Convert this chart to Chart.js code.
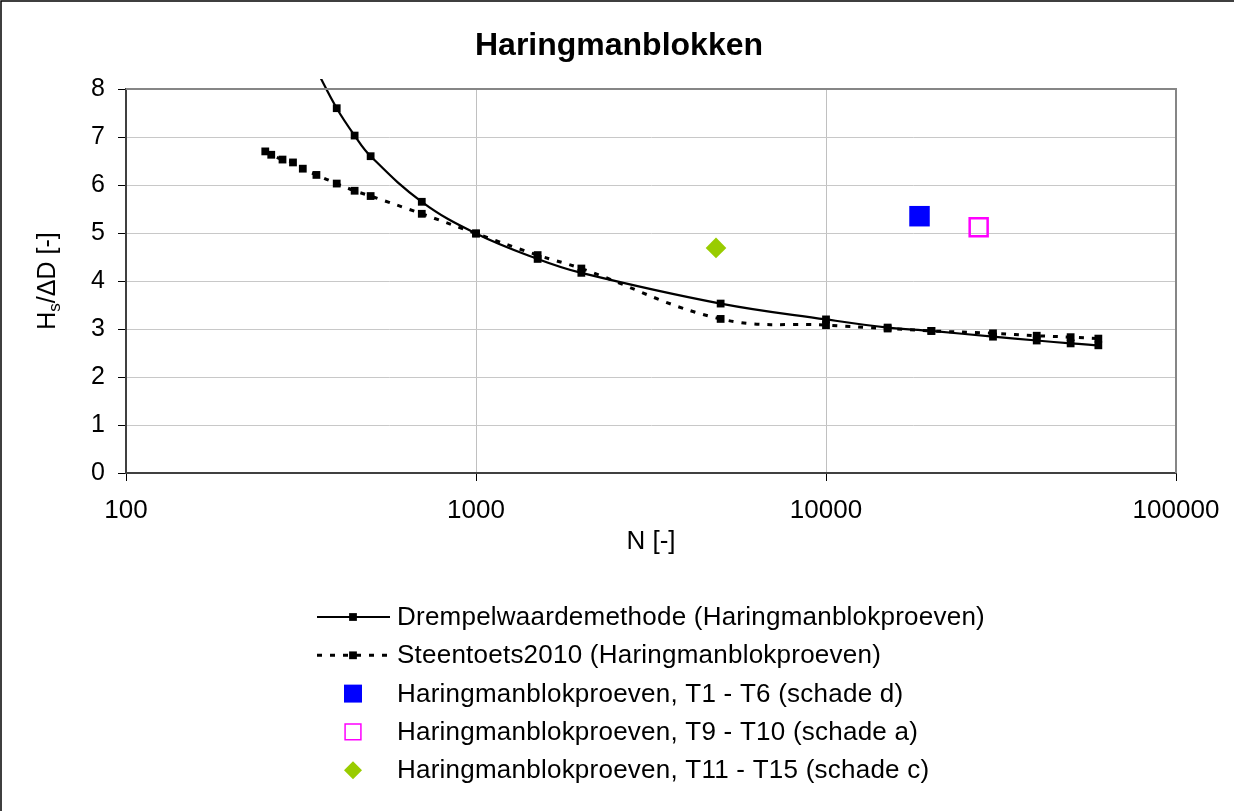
<!DOCTYPE html>
<html><head><meta charset="utf-8">
<script src="https://cdn.jsdelivr.net/npm/chart.js@4.4.0/dist/chart.umd.min.js"></script>
<style>html,body{margin:0;padding:0;background:#fff;}canvas{display:block;}</style>
</head><body>
<canvas id="c" width="1234" height="811" style="width:1234px;height:811px"></canvas>
<script>
// ---- data ----
const chartTitle = 'Haringmanblokken';
const xTitle = 'N [-]';
const yTitleMain = 'H';
const yTitleSub = 's';
const yTitleRest = '/\u0394D [-]';
const xTicks = [100, 1000, 10000, 100000];
const yTicks = [0, 1, 2, 3, 4, 5, 6, 7, 8];

const seriesLabels = [
  'Drempelwaardemethode (Haringmanblokproeven)',
  'Steentoets2010 (Haringmanblokproeven)',
  'Haringmanblokproeven, T1 - T6 (schade d)',
  'Haringmanblokproeven, T9 - T10 (schade a)',
  'Haringmanblokproeven, T11 - T15 (schade c)'
];

const nDrempel  = [350, 400, 450, 500, 700, 1000, 1500, 2000, 5000, 10000, 15000, 20000, 30000, 40000, 50000, 60000];
const hsDrempel = [8.40, 7.60, 7.03, 6.60, 5.65, 4.99, 4.46, 4.17, 3.53, 3.20, 3.03, 2.96, 2.84, 2.76, 2.70, 2.66];

const nSteen  = [250, 260, 280, 300, 320, 350, 400, 450, 500, 700, 1000, 1500, 2000, 5000, 10000, 15000, 20000, 30000, 40000, 50000, 60000];
const hsSteen = [6.70, 6.63, 6.53, 6.47, 6.34, 6.21, 6.03, 5.88, 5.77, 5.40, 4.99, 4.54, 4.26, 3.21, 3.08, 3.01, 2.96, 2.91, 2.86, 2.83, 2.80];

const nT1T6   = [18500];
const hsT1T6  = [5.35];
const nT9T10  = [27300];
const hsT9T10 = [5.12];
const nT11T15  = [4850];
const hsT11T15 = [4.69];

const FONT = '"Liberation Sans", Arial, sans-serif';

function pts(xs, ys) { return xs.map((x, i) => ({ x: x, y: ys[i] })); }

function spacingFor(ctx, text, width) {
  ctx.letterSpacing = '0px';
  const w = ctx.measureText(text).width;
  const n = Array.from(text).length;
  return Math.max(0, (width - w) / n);
}

const bgPlugin = {
  id: 'bg',
  beforeDraw(chart) {
    const ctx = chart.ctx;
    ctx.save();
    ctx.fillStyle = '#ffffff';
    ctx.fillRect(0, 0, chart.width, chart.height);
    ctx.restore();
  }
};

const framePlugin = {
  id: 'frame',
  afterDraw(chart) {
    const ctx = chart.ctx;
    const a = chart.chartArea;
    ctx.save();
    // plot top & right borders
    ctx.strokeStyle = '#868686';
    ctx.lineWidth = 2;
    ctx.beginPath();
    ctx.moveTo(a.left, a.top);
    ctx.lineTo(a.right, a.top);
    ctx.lineTo(a.right, a.bottom);
    ctx.stroke();
    // outer frame (top, left)
    ctx.strokeStyle = '#000000';
    ctx.lineWidth = 1.5;
    ctx.beginPath();
    ctx.moveTo(1, chart.height);
    ctx.lineTo(1, 1);
    ctx.lineTo(chart.width, 1);
    ctx.stroke();

    // title
    ctx.fillStyle = '#000';
    ctx.font = 'bold 32px ' + FONT;
    ctx.letterSpacing = '0px';
    ctx.textAlign = 'left';
    ctx.textBaseline = 'alphabetic';
    let tw = ctx.measureText(chartTitle).width;
    ctx.fillText(chartTitle, 619 - tw / 2, 55);

    // x axis title
    ctx.font = '26px ' + FONT;
    tw = ctx.measureText(xTitle).width;
    ctx.fillText(xTitle, (a.left + a.right) / 2 - tw / 2, 549);

    // y axis title (rotated)
    ctx.save();
    ctx.translate(55, (a.top + a.bottom) / 2);
    ctx.rotate(-Math.PI / 2);
    ctx.font = '25px ' + FONT;
    const w1 = ctx.measureText(yTitleMain).width;
    const w3 = ctx.measureText(yTitleRest).width;
    ctx.font = '17px ' + FONT;
    const w2 = ctx.measureText(yTitleSub).width;
    let x0 = -(w1 + w2 + w3) / 2;
    ctx.font = '25px ' + FONT;
    ctx.fillText(yTitleMain, x0, 0);
    ctx.font = '17px ' + FONT;
    ctx.fillText(yTitleSub, x0 + w1, 5);
    ctx.font = '25px ' + FONT;
    ctx.fillText(yTitleRest, x0 + w1 + w2, 0);
    ctx.restore();

    // legend
    ctx.font = '26px ' + FONT;
    const ls = spacingFor(ctx, chart.data.datasets[0].label, 588);
    ctx.letterSpacing = ls + 'px';
    ctx.textBaseline = 'middle';
    chart.data.datasets.forEach((ds, i) => {
      const y = 617 + i * 38.3;
      const mx = 353;
      if (ds.showLine) {
        ctx.save();
        ctx.strokeStyle = ds.borderColor;
        ctx.lineWidth = ds.borderWidth;
        ctx.setLineDash(ds.borderDash || []);
        ctx.beginPath();
        ctx.moveTo(317, y);
        ctx.lineTo(390, y);
        ctx.stroke();
        ctx.restore();
      }
      ctx.save();
      ctx.fillStyle = ds.pointBackgroundColor;
      ctx.strokeStyle = ds.pointBorderColor;
      Chart.helpers.drawPoint(ctx, {
        pointStyle: ds.pointStyle,
        radius: ds.legendRadius,
        borderWidth: ds.pointBorderWidth,
        rotation: 0
      }, mx, y);
      ctx.restore();
      ctx.fillStyle = '#000';
      ctx.fillText(ds.label, 397, y + 1);
    });
    ctx.restore();
  }
};

const commonClip = { left: 0, top: 10, right: 0, bottom: 0 };

new Chart(document.getElementById('c'), {
  type: 'scatter',
  data: {
    datasets: [
      {
        label: seriesLabels[0],
        data: pts(nDrempel, hsDrempel),
        showLine: true,
        borderColor: '#000000',
        borderWidth: 2.2,
        tension: 0.4,
        pointStyle: 'rect',
        pointRadius: 5.5,
        legendRadius: 5.5,
        pointBackgroundColor: '#000000',
        pointBorderColor: '#000000',
        pointBorderWidth: 0,
        clip: commonClip
      },
      {
        label: seriesLabels[1],
        data: pts(nSteen, hsSteen),
        showLine: true,
        borderColor: '#000000',
        borderWidth: 3,
        borderDash: [5, 8],
        tension: 0.4,
        pointStyle: 'rect',
        pointRadius: 5.5,
        legendRadius: 5.5,
        pointBackgroundColor: '#000000',
        pointBorderColor: '#000000',
        pointBorderWidth: 0,
        clip: commonClip
      },
      {
        label: seriesLabels[2],
        data: pts(nT1T6, hsT1T6),
        showLine: false,
        pointStyle: 'rect',
        pointRadius: 14.5,
        legendRadius: 12.7,
        pointBackgroundColor: '#0000ff',
        pointBorderColor: '#0000ff',
        pointBorderWidth: 0
      },
      {
        label: seriesLabels[3],
        data: pts(nT9T10, hsT9T10),
        showLine: false,
        pointStyle: 'rect',
        pointRadius: 12.7,
        legendRadius: 11.2,
        pointBackgroundColor: 'rgba(255,255,255,0)',
        pointBorderColor: '#ff00ff',
        pointBorderWidth: 2.5
      },
      {
        label: seriesLabels[4],
        data: pts(nT11T15, hsT11T15),
        showLine: false,
        pointStyle: 'rectRot',
        pointRadius: 10.3,
        legendRadius: 9,
        pointBackgroundColor: '#99cc00',
        pointBorderColor: '#99cc00',
        pointBorderWidth: 0
      }
    ]
  },
  options: {
    responsive: false,
    animation: false,
    devicePixelRatio: 1,
    layout: { padding: { top: 89, right: 58, bottom: 218, left: 0 } },
    plugins: { legend: { display: false }, title: { display: false }, tooltip: { enabled: false } },
    scales: {
      x: {
        type: 'logarithmic',
        min: 100,
        max: 100000,
        afterBuildTicks(s) { s.ticks = xTicks.map(v => ({ value: v })); },
        afterFit(s) { s.height = 120; },
        ticks: {
          autoSkip: false,
          maxRotation: 0,
          padding: 14,
          color: '#000',
          font: { family: FONT, size: 26 },
          callback: (v) => String(v)
        },
        grid: { color: '#c0c0c0', lineWidth: 1, tickColor: '#000', tickLength: 8 },
        border: { color: '#404040', width: 2 }
      },
      y: {
        type: 'linear',
        min: 0,
        max: 8,
        afterBuildTicks(s) { s.ticks = yTicks.map(v => ({ value: v })); },
        afterFit(s) { s.width = 126; },
        ticks: {
          padding: 13,
          color: '#000',
          font: { family: FONT, size: 25 },
          callback: (v) => String(v)
        },
        grid: { color: '#c8c8c8', lineWidth: 1, tickColor: '#000', tickLength: 8 },
        border: { color: '#404040', width: 2 }
      }
    }
  },
  plugins: [bgPlugin, framePlugin]
});
</script>
</body></html>
